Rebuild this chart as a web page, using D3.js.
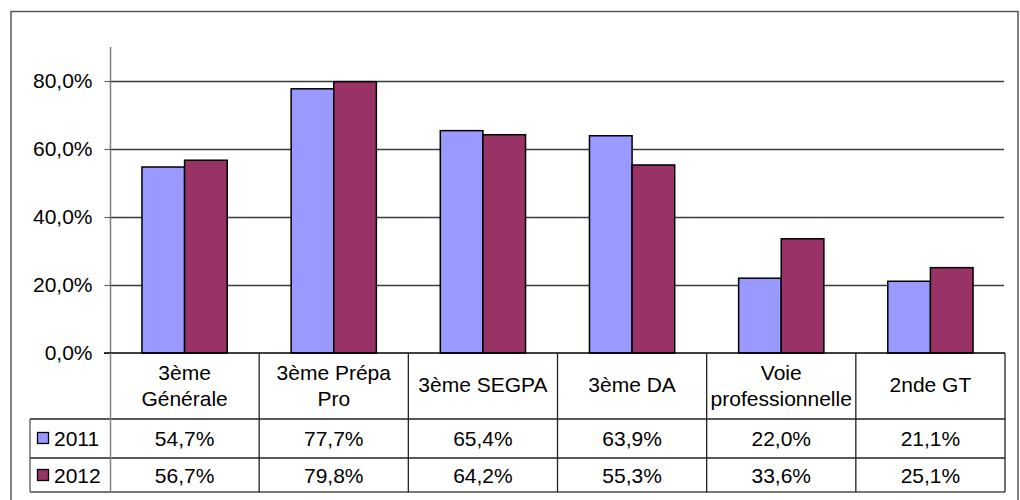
<!DOCTYPE html>
<html><head><meta charset="utf-8">
<script src="https://cdn.jsdelivr.net/npm/d3@7"></script>
<style>body{margin:0;background:#fff}svg{display:block;font-family:"Liberation Sans",Arial,sans-serif}</style>
</head><body><svg id="c" width="1020" height="500"></svg>
<script>
const categories = [["3ème","Générale"],["3ème Prépa","Pro"],["3ème SEGPA"],["3ème DA"],["Voie","professionnelle"],["2nde GT"]];
const seriesNames = ["2011","2012"];
const values2011 = [54.7, 77.7, 65.4, 63.9, 22.0, 21.1];
const values2012 = [56.7, 79.8, 64.2, 55.3, 33.6, 25.1];
const yTicks = [0, 20, 40, 60, 80];
const colors = ["#9999FF", "#993366"];

const svg = d3.select("#c");
const L = 110, R = 1005, T = 47, B = 353;
const rowH = [353, 419, 458, 492];
const tableLeft = 30;
const fs = 21;
const fmt = v => v.toFixed(1).replace(".", ",") + "%";
const series = [values2011, values2012];
const keys = categories.map((c, i) => i);

// outer border
svg.append("rect").attr("x", 11).attr("y", 11.5).attr("width", 1007).attr("height", 500)
  .attr("fill", "none").attr("stroke", "#555").attr("stroke-width", 1.5);

const x0 = d3.scaleBand().domain(keys).range([L, R]).padding(0);
const x1 = d3.scaleBand().domain([0, 1]).range([0, x0.bandwidth()]).paddingInner(0).paddingOuter(0.75);
const y = d3.scaleLinear().domain([0, 90]).range([B, T]);

// gridlines
svg.append("g").selectAll("line").data(yTicks.filter(d => d > 0)).join("line")
  .attr("x1", L).attr("x2", R - 1).attr("y1", d => Math.round(y(d)) + 0.5).attr("y2", d => Math.round(y(d)) + 0.5)
  .attr("stroke", "#3a3a3a").attr("stroke-width", 1.3);

// y axis
const yAxis = d3.axisLeft(y).tickValues(yTicks).tickSize(6).tickFormat(fmt);
const gy = svg.append("g").attr("transform", `translate(${L + 0.5},0)`).call(yAxis);
gy.select(".domain").attr("d", `M0,${T}V${B}`).attr("stroke", "#808080").attr("stroke-width", 1.5);
gy.selectAll(".tick line").attr("stroke", "#555");
gy.selectAll(".tick text").attr("font-size", fs).attr("fill", "#000").attr("x", -18)
  .attr("font-family", "Liberation Sans, Arial, sans-serif");

// bars
svg.append("g").selectAll("g").data(keys).join("g")
  .attr("transform", i => `translate(${x0(i)},0)`)
  .selectAll("rect").data(i => series.map((s, k) => ({k, v: s[i]}))).join("rect")
  .attr("x", d => x1(d.k)).attr("width", x1.bandwidth())
  .attr("y", d => y(d.v)).attr("height", d => y(0) - y(d.v))
  .attr("fill", d => colors[d.k]).attr("stroke", "#000").attr("stroke-width", 1.5);

// data table
const tg = svg.append("g").attr("stroke", "#222").attr("stroke-width", 1.3);
// horizontal lines
tg.append("line").attr("x1", L - 6).attr("x2", R).attr("y1", rowH[0]).attr("y2", rowH[0]).attr("stroke", "#000").attr("stroke-width", 1.5);
tg.append("line").attr("x1", tableLeft).attr("x2", R).attr("y1", rowH[1]).attr("y2", rowH[1]);
tg.append("line").attr("x1", tableLeft).attr("x2", R).attr("y1", rowH[2]).attr("y2", rowH[2]);
tg.append("line").attr("x1", tableLeft).attr("x2", R).attr("y1", rowH[3]).attr("y2", rowH[3]).attr("stroke", "#777").attr("stroke-width", 1.8);
// vertical lines
tg.append("line").attr("x1", tableLeft).attr("x2", tableLeft).attr("y1", rowH[1]).attr("y2", rowH[3]).attr("stroke", "#555");
tg.append("line").attr("x1", L + 0.5).attr("x2", L + 0.5).attr("y1", rowH[0]).attr("y2", rowH[3]).attr("stroke", "#808080").attr("stroke-width", 1.5);
tg.selectAll("line.v").data(keys).join("line").attr("class", "v")
  .attr("x1", i => x0(i) + x0.bandwidth()).attr("x2", i => x0(i) + x0.bandwidth())
  .attr("y1", rowH[0]).attr("y2", rowH[3]);

// header texts
const ht = svg.append("g").attr("font-size", fs).attr("text-anchor", "middle").attr("fill", "#000");
keys.forEach(i => {
  const lines = categories[i];
  const cx = x0(i) + x0.bandwidth() / 2;
  const t = ht.append("text").attr("x", cx);
  if (lines.length === 1) {
    t.append("tspan").attr("x", cx).attr("y", 392).text(lines[0]);
  } else {
    t.append("tspan").attr("x", cx).attr("y", 380).text(lines[0]);
    t.append("tspan").attr("x", cx).attr("y", 406).text(lines[1]);
  }
});

// value rows
const baselines = [446, 483];
series.forEach((s, k) => {
  svg.append("g").selectAll("text").data(s).join("text")
    .attr("x", (d, i) => x0(i) + x0.bandwidth() / 2).attr("y", baselines[k])
    .attr("text-anchor", "middle").attr("font-size", fs).attr("fill", "#000")
    .text(d => fmt(d));
  svg.append("rect").attr("x", 37.5).attr("y", baselines[k] - 13.5).attr("width", 11).attr("height", 11)
    .attr("fill", colors[k]).attr("stroke", "#000").attr("stroke-width", 1.3);
  svg.append("text").attr("x", 54).attr("y", baselines[k]).attr("font-size", fs).attr("fill", "#000").text(seriesNames[k]);
});
</script></body></html>
